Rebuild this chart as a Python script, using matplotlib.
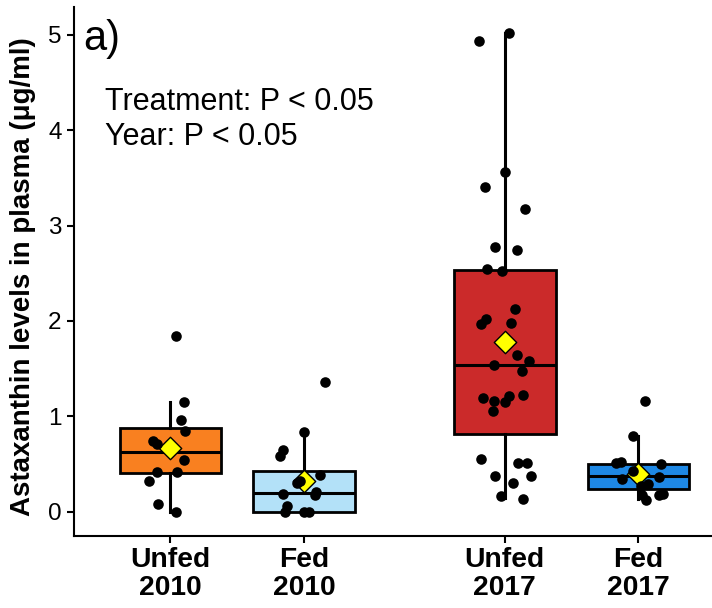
import numpy as np
import matplotlib
matplotlib.use('Agg')
import matplotlib.pyplot as plt

plt.rcParams['font.family'] = ['Liberation Sans', 'DejaVu Sans']

# --- Data ---
groups = ['Unfed\n2010', 'Fed\n2010', 'Unfed\n2017', 'Fed\n2017']
positions = [1, 2, 3.5, 4.5]
colors = ['#F98020', '#B3E1F8', '#CB2A2A', '#1E88E5']

q1 = [0.40, 0.00, 0.81, 0.24]
median = [0.63, 0.20, 1.54, 0.37]
q3 = [0.88, 0.43, 2.53, 0.50]
whislo = [0.00, 0.00, 0.14, 0.13]
whishi = [1.15, 0.84, 5.02, 0.79]
means = [0.67, 0.32, 1.78, 0.39]

# individual values and their jitter offsets
unfed_2010 = [1.84, 1.15, 0.96, 0.85, 0.74, 0.71, 0.54, 0.42, 0.42, 0.32, 0.08, 0.00]
unfed_2010_jit = [0.04, 0.10, 0.08, 0.11, -0.13, -0.10, 0.10, -0.10, 0.05, -0.16, -0.09, 0.04]
fed_2010 = [1.36, 0.84, 0.65, 0.58, 0.38, 0.32, 0.30, 0.19, 0.21, 0.17, 0.06, 0.00, 0.00, 0.00]
fed_2010_jit = [0.16, 0.00, -0.16, -0.18, 0.12, -0.03, -0.05, -0.16, 0.09, 0.08, -0.13, -0.14, 0.00, 0.04]
unfed_2017 = [5.02, 4.94, 3.56, 3.40, 3.17, 2.78, 2.74, 2.55, 2.52, 2.13, 2.02, 1.97, 1.98,
              1.64, 1.58, 1.54, 1.47, 1.19, 1.16, 1.21, 1.15, 1.22, 1.06, 0.55, 0.51,
              0.51, 0.37, 0.37, 0.30, 0.16, 0.13]
unfed_2017_jit = [0.03, -0.19, 0.00, -0.15, 0.15, -0.07, 0.09, -0.13, -0.02, 0.08, -0.14, -0.18, 0.05,
                  0.09, 0.18, -0.08, 0.13, -0.16, -0.08, 0.03, 0.00, 0.14, -0.09, -0.18, 0.10,
                  0.17, -0.07, 0.20, 0.06, -0.03, 0.14]
fed_2017 = [1.16, 0.79, 0.51, 0.52, 0.50, 0.34, 0.43, 0.29, 0.36, 0.19, 0.17, 0.17, 0.12, 0.27]
fed_2017_jit = [0.05, -0.04, -0.17, -0.13, 0.17, -0.12, -0.04, 0.07, 0.15, 0.18, 0.15, 0.03, 0.06, 0.02]

values = [unfed_2010, fed_2010, unfed_2017, fed_2017]
jitters = [unfed_2010_jit, fed_2010_jit, unfed_2017_jit, fed_2017_jit]

fig = plt.figure(figsize=(7.12, 6.08), dpi=100)
ax = fig.add_axes([0.104, 0.119, 0.896, 0.869])

stats = []
for i in range(len(groups)):
    stats.append({'q1': q1[i], 'med': median[i], 'q3': q3[i],
                  'whislo': whislo[i], 'whishi': whishi[i], 'fliers': []})

lw = 2.0
bp = ax.bxp(stats, positions=positions, widths=0.76, patch_artist=True,
            showcaps=False, showfliers=False,
            boxprops=dict(linewidth=lw, edgecolor='black'),
            medianprops=dict(color='black', linewidth=2.2),
            whiskerprops=dict(color='black', linewidth=2.2))
for patch, c in zip(bp['boxes'], colors):
    patch.set_facecolor(c)

# mean diamonds
ax.scatter(positions, means, marker='D', s=130, c='#FFFF00',
           edgecolors='black', linewidths=1.0, zorder=4)

# jittered points
for pos, vals, jit in zip(positions, values, jitters):
    ax.scatter(np.array(jit) + pos, vals, s=58, c='black', zorder=5, linewidths=0)

ax.set_xlim(0.28, 5.05)
ax.set_ylim(-0.252, 5.29)
ax.set_xticks(positions)
ax.set_xticklabels(groups, fontsize=20.3, fontweight='bold', linespacing=1.1)
ax.set_yticks([0, 1, 2, 3, 4, 5])
ax.tick_params(axis='y', labelsize=17.5, width=1.5, length=5, pad=4)
ax.tick_params(axis='x', width=1.5, length=5, pad=3)
ax.set_ylabel('Astaxanthin levels in plasma (\u03bcg/ml)', fontsize=20,
              fontweight='bold')
ax.yaxis.set_label_coords(-0.06, 0.49)

for s in ['top', 'right']:
    ax.spines[s].set_visible(False)
for s in ['left', 'bottom']:
    ax.spines[s].set_linewidth(1.5)

ax.text(0.014, 0.919, 'a)', transform=ax.transAxes, fontsize=30, va='baseline')
ax.text(0.049, 0.805, 'Treatment: P < 0.05', transform=ax.transAxes,
        fontsize=22, va='baseline')
ax.text(0.049, 0.739, 'Year: P < 0.05', transform=ax.transAxes,
        fontsize=22, va='baseline')

plt.savefig('out.png', dpi=100)
